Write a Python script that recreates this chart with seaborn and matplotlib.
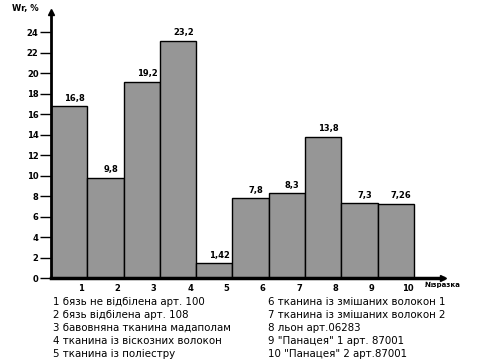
import pandas as pd
import numpy as np

import matplotlib
matplotlib.use("Agg")
import matplotlib.pyplot as plt
import seaborn as sns

# =========================================
# DATA
# =========================================

samples = [1, 2, 3, 4, 5, 6, 7, 8, 9, 10]

wr_values = [16.8, 9.8, 19.2, 23.2, 1.42, 7.8, 8.3, 13.8, 7.3, 7.26]

value_labels = ["16,8", "9,8", "19,2", "23,2", "1,42", "7,8", "8,3", "13,8", "7,3", "7,26"]

y_ticks = [0, 2, 4, 6, 8, 10, 12, 14, 16, 18, 20, 22, 24]

legend_left = [
    "1 бязь не відбілена арт. 100",
    "2 бязь відбілена арт. 108",
    "3 бавовняна тканина мадаполам",
    "4 тканина із віскозних волокон",
    "5 тканина із поліестру",
]

legend_right = [
    "6 тканина із змішаних волокон 1",
    "7 тканина із змішаних волокон 2",
    "8 льон арт.06283",
    "9 \"Панацея\" 1 арт. 87001",
    "10 \"Панацея\" 2 арт.87001",
]

df = pd.DataFrame({"sample": samples, "wr": wr_values})

# =========================================
# FIGURE
# =========================================

sns.set_style("white", rc={
    "axes.edgecolor": "black",
    "text.color": "black",
    "xtick.color": "black",
    "ytick.color": "black",
})
plt.rcParams['font.family'] = ['DejaVu Sans']

fig = plt.figure(figsize=(4.81, 3.62), dpi=100)

ax = fig.add_axes([51 / 481, 1 - 278 / 362, (443 - 51) / 481, (278 - 12) / 362])

sns.barplot(
    data=df,
    x="sample",
    y="wr",
    native_scale=True,
    width=1,
    color="#969696",
    saturation=1,
    edgecolor="black",
    linewidth=1.0,
    ax=ax
)

ax.set_xlim(0.5, 11.3)
ax.set_ylim(0, 26)

# value labels
for s, v, lab in zip(samples, wr_values, value_labels):
    ax.text(s + 0.15, v + 0.35, lab, ha="center", va="bottom",
            fontsize=6, fontweight="bold")

# axes look
for side in ["top", "right"]:
    ax.spines[side].set_visible(False)
ax.spines["left"].set_linewidth(2)
ax.spines["bottom"].set_linewidth(2.5)

ax.plot(0.5, 26, marker="^", color="black", markersize=5, clip_on=False)
ax.plot(11.3, 0, marker=">", color="black", markersize=5, clip_on=False)

ax.set_yticks(y_ticks)
ax.set_yticklabels([str(t) for t in y_ticks], fontsize=6, fontweight="bold")
ax.tick_params(axis="y", direction="out", length=8, width=1, pad=1, left=True)

ax.set_xticks([s + 0.33 for s in samples])
ax.set_xticklabels([str(s) for s in samples], fontsize=6, fontweight="bold")
ax.tick_params(axis="x", length=0, pad=4)

ax.set_xlabel("")
ax.set_ylabel("")

fig.text(12 / 481, 1 - 8 / 362, "Wr, %", fontsize=6, fontweight="bold",
         ha="left", va="center")
fig.text(425 / 481, 1 - 285 / 362, "№зразка", fontsize=5, fontweight="bold",
         ha="left", va="center")

# legend text
for i, line in enumerate(legend_left):
    fig.text(53 / 481, 1 - (302 + i * 13) / 362, line, fontsize=7.4,
             ha="left", va="center")

for i, line in enumerate(legend_right):
    fig.text(268 / 481, 1 - (302 + i * 13) / 362, line, fontsize=7.4,
             ha="left", va="center")

plt.savefig("out.png", dpi=100)

plt.close()
